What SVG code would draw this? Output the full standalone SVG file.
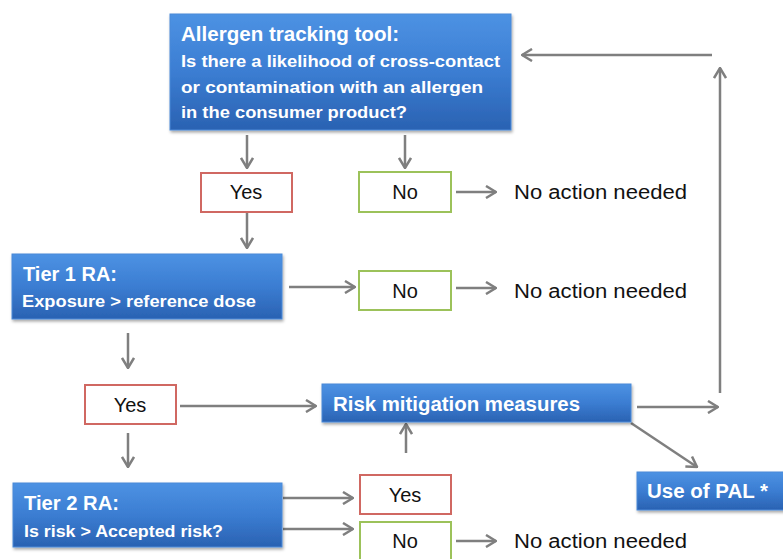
<svg xmlns="http://www.w3.org/2000/svg" width="783" height="559" viewBox="0 0 783 559">
<defs>
<linearGradient id="blue" x1="0" y1="0" x2="0" y2="1">
<stop offset="0" stop-color="#4d92e3"/>
<stop offset="0.5" stop-color="#3b7dd2"/>
<stop offset="1" stop-color="#2a62b2"/>
</linearGradient>
<filter id="sh" x="-10%" y="-10%" width="120%" height="130%">
<feDropShadow dx="1" dy="2" stdDeviation="1.5" flood-color="#000" flood-opacity="0.35"/>
</filter>
<marker id="ah" viewBox="0 0 12 14" refX="11" refY="7" markerWidth="12" markerHeight="14" markerUnits="userSpaceOnUse" orient="auto">
<path d="M1,1 L11,7 L1,13" fill="none" stroke="#7f7f7f" stroke-width="2.5"/>
</marker>
<style>
.bx{fill:url(#blue);stroke:#4a8ad8;stroke-width:1;filter:url(#sh)}
.yes{fill:#fff;stroke:#d06862;stroke-width:2}
.no{fill:#fff;stroke:#9cc25a;stroke-width:2}
.h{font-family:"Liberation Sans",Arial,sans-serif;font-weight:bold;font-size:20px;fill:#fff}
.s{font-family:"Liberation Sans",Arial,sans-serif;font-weight:bold;font-size:17px;fill:#fff}
.t{font-family:"Liberation Sans",Arial,sans-serif;font-size:20px;fill:#111}
.c{fill:none;stroke:#7f7f7f;stroke-width:2.5;marker-end:url(#ah)}
.l{fill:none;stroke:#7f7f7f;stroke-width:2.5}
</style>
</defs>
<rect width="783" height="559" fill="#fff"/>

<g id="connectors">
<line class="c" x1="247" y1="135" x2="247" y2="168"/>
<line class="c" x1="405" y1="135" x2="405" y2="168"/>
<line class="c" x1="456" y1="192" x2="496" y2="192"/>
<line class="c" x1="247" y1="213" x2="247" y2="248"/>
<line class="c" x1="289" y1="287" x2="355" y2="287"/>
<line class="c" x1="456" y1="288" x2="496" y2="288"/>
<line class="c" x1="128" y1="333" x2="128" y2="368"/>
<line class="c" x1="180" y1="406" x2="316" y2="406"/>
<line class="c" x1="128" y1="433" x2="128" y2="467"/>
<line class="c" x1="637" y1="407" x2="718" y2="407"/>
<line class="c" x1="720" y1="393" x2="720" y2="68"/>
<line class="c" x1="712" y1="55" x2="522" y2="55"/>
<line class="c" x1="631" y1="423" x2="697" y2="467"/>
<line class="c" x1="406" y1="453" x2="406" y2="424"/>
<line class="c" x1="283" y1="498" x2="353" y2="498"/>
<line class="c" x1="283" y1="529" x2="353" y2="529"/>
<line class="c" x1="456" y1="541" x2="496" y2="541"/>
</g>

<g id="n-allergen">
<rect class="bx" x="170" y="14" width="341" height="116"/>
<text class="h" x="181" y="41" textLength="218" lengthAdjust="spacingAndGlyphs">Allergen tracking tool:</text>
<text class="s" x="181" y="67" textLength="319" lengthAdjust="spacingAndGlyphs">Is there a likelihood of cross-contact</text>
<text class="s" x="181" y="93" textLength="302" lengthAdjust="spacingAndGlyphs">or contamination with an allergen</text>
<text class="s" x="181" y="118" textLength="226" lengthAdjust="spacingAndGlyphs">in the consumer product?</text>
</g>

<g id="n-yes1">
<rect class="yes" x="201" y="173" width="91" height="39"/>
<text class="t" x="246" y="199" text-anchor="middle">Yes</text>
</g>
<g id="n-no1">
<rect class="no" x="359" y="172" width="92" height="40"/>
<text class="t" x="405" y="199" text-anchor="middle">No</text>
</g>
<g id="n-noaction1">
<text class="t" x="514" y="199" textLength="173" lengthAdjust="spacingAndGlyphs">No action needed</text>
</g>

<g id="n-tier1">
<rect class="bx" x="12" y="254" width="270" height="65"/>
<text class="h" x="23" y="281" textLength="94" lengthAdjust="spacingAndGlyphs">Tier 1 RA:</text>
<text class="s" x="22" y="307" textLength="234" lengthAdjust="spacingAndGlyphs">Exposure &gt; reference dose</text>
</g>
<g id="n-no2">
<rect class="no" x="359" y="271" width="92" height="39"/>
<text class="t" x="405" y="298" text-anchor="middle">No</text>
</g>
<g id="n-noaction2">
<text class="t" x="514" y="298" textLength="173" lengthAdjust="spacingAndGlyphs">No action needed</text>
</g>

<g id="n-yes2">
<rect class="yes" x="85" y="385" width="91" height="39"/>
<text class="t" x="130" y="412" text-anchor="middle">Yes</text>
</g>

<g id="n-risk">
<rect class="bx" x="322" y="384" width="309" height="38"/>
<text class="h" x="333" y="411" textLength="247" lengthAdjust="spacingAndGlyphs">Risk mitigation measures</text>
</g>

<g id="n-pal">
<rect class="bx" x="637" y="472" width="150" height="38"/>
<text class="h" x="647" y="498" textLength="121" lengthAdjust="spacingAndGlyphs">Use of PAL *</text>
</g>

<g id="n-tier2">
<rect class="bx" x="13" y="483" width="269" height="64"/>
<text class="h" x="24" y="510" textLength="95" lengthAdjust="spacingAndGlyphs">Tier 2 RA:</text>
<text class="s" x="24" y="537" textLength="199" lengthAdjust="spacingAndGlyphs">Is risk &gt; Accepted risk?</text>
</g>

<g id="n-yes3">
<rect class="yes" x="360" y="475" width="91" height="39"/>
<text class="t" x="405" y="502" text-anchor="middle">Yes</text>
</g>
<g id="n-no3">
<rect class="no" x="360" y="522" width="91" height="40"/>
<text class="t" x="405" y="548" text-anchor="middle">No</text>
</g>
<g id="n-noaction3">
<text class="t" x="514" y="548" textLength="173" lengthAdjust="spacingAndGlyphs">No action needed</text>
</g>
</svg>
